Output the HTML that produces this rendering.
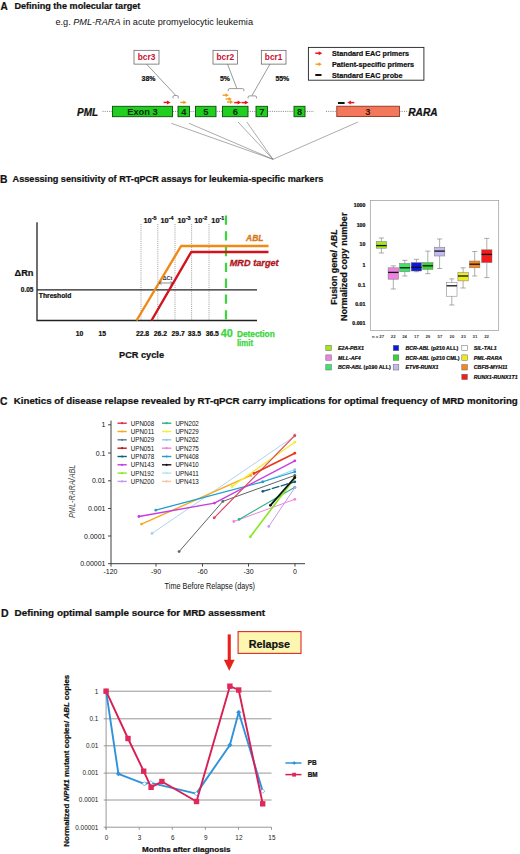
<!DOCTYPE html>
<html><head><meta charset="utf-8">
<style>
html,body{margin:0;padding:0;background:#fff;}
svg{display:block;font-family:"Liberation Sans",sans-serif;}
.b{font-weight:bold}
.i{font-style:italic}
.bi{font-weight:bold;font-style:italic}
text.b[fill="#111"],text.bi[fill="#111"],g.b[fill="#111"] text{stroke:#111;stroke-width:0.22px}
</style></head>
<body>
<svg width="520" height="854" viewBox="0 0 520 854">
<rect width="520" height="854" fill="#fff"/>
<!-- ================= PANEL A ================= -->
<g id="A">
<text x="0.5" y="9.6" class="b" font-size="10" fill="#111">A</text>
<text x="14.4" y="9" class="b" font-size="9.1" fill="#111" textLength="126" lengthAdjust="spacingAndGlyphs">Defining the molecular target</text>
<text x="55.4" y="25" font-size="9.1" fill="#111" textLength="197.6" lengthAdjust="spacingAndGlyphs">e.g. <tspan class="i">PML-RARA</tspan> in acute promyelocytic leukemia</text>

<!-- bcr boxes -->
<g fill="#fff" stroke="#555" stroke-width="0.7">
<rect x="134" y="50.3" width="25" height="13.8"/>
<rect x="213" y="50.3" width="24.5" height="13.8"/>
<rect x="261.3" y="50.3" width="24.7" height="13.8"/>
</g>
<g class="b" font-size="8.3" fill="#c8102e" text-anchor="middle">
<text x="146.5" y="60">bcr3</text>
<text x="225.3" y="60">bcr2</text>
<text x="273.6" y="60">bcr1</text>
</g>
<g class="b" font-size="6.9" fill="#111" text-anchor="middle">
<text x="148.5" y="80.9">38%</text>
<text x="225" y="80.9">5%</text>
<text x="282.3" y="80.9">55%</text>
</g>
<!-- pointer lines + brackets -->
<g fill="none" stroke="#555" stroke-width="0.6">
<path d="M146.5 64.1 L175.6 95.3"/>
<path d="M173 98.4 V96.9 Q173 95.5 174.6 95.5 H176.7 Q178.3 95.5 178.3 96.9 V98.4"/>
<path d="M227.5 64.1 L236.8 88.4"/>
<path d="M228.2 91.2 V89.8 Q228.2 88.6 229.9 88.6 H242.2 Q243.9 88.6 243.9 89.8 V91.2"/>
<path d="M270 64.1 L252 95.5"/>
<path d="M248.1 98.4 V97 Q248.1 95.9 249.6 95.9 H255 Q256.5 95.9 256.5 97 V98.4"/>
</g>
<!-- dotted backbone -->
<g stroke="#666" stroke-width="0.8" stroke-dasharray="1 1.2" fill="none">
<path d="M102.5 111.4 H314"/>
<path d="M326 111.4 H336"/>
<path d="M399.5 111.4 H408"/>
</g>
<!-- exons -->
<g fill="#21cf21" stroke="#0d4d0d" stroke-width="0.9">
<rect x="112.5" y="106.3" width="60" height="10.4"/>
<rect x="178" y="106.3" width="11.5" height="10.4"/>
<rect x="195.5" y="106.3" width="20.5" height="10.4"/>
<rect x="222.5" y="106.3" width="25.5" height="10.4"/>
<rect x="256" y="106.3" width="11.5" height="10.4"/>
<rect x="294" y="106.3" width="11" height="10.4"/>
</g>
<rect x="336.8" y="106.2" width="62.7" height="10.4" fill="#f4775a" stroke="#7a2a1a" stroke-width="0.8"/>
<g class="b" font-size="9.3" fill="#0a2a0a" text-anchor="middle">
<text x="142.5" y="115">Exon 3</text>
<text x="183.8" y="115">4</text>
<text x="205.8" y="115">5</text>
<text x="235.3" y="115">6</text>
<text x="261.8" y="115">7</text>
<text x="299.5" y="115">8</text>
<text x="367.8" y="115" fill="#3a1008">3</text>
</g>
<text x="77" y="115.6" class="bi" font-size="10.2" fill="#111" textLength="21" lengthAdjust="spacingAndGlyphs">PML</text>
<text x="408.2" y="115.6" class="bi" font-size="10.2" fill="#111" textLength="29.5" lengthAdjust="spacingAndGlyphs">RARA</text>
<!-- primers arrows -->
<defs>
<g id="arR"><path d="M0 0 H4.2" stroke="#e8151b" stroke-width="1.5" fill="none"/><path d="M3.4 -2 L7 0 L3.4 2 Z" fill="#e8151b"/></g>
<g id="arO"><path d="M0 0 H3.8" stroke="#f39a1c" stroke-width="1.4" fill="none"/><path d="M3 -1.9 L6.3 0 L3 1.9 Z" fill="#f39a1c"/></g>
</defs>
<use href="#arR" x="163.6" y="102.4"/>
<use href="#arO" x="180.3" y="102.4"/>
<use href="#arO" x="222.6" y="95.2"/>
<use href="#arO" x="225.6" y="99"/>
<use href="#arO" x="227" y="102"/>
<use href="#arR" x="234.2" y="102.6"/>
<use href="#arR" x="241.5" y="102.6"/>
<rect x="338" y="102" width="6.6" height="2" fill="#111"/>
<use href="#arR" transform="translate(354.3 102.6) scale(-1 1)"/>
<!-- convergence lines -->
<g stroke="#666" stroke-width="0.55" fill="none">
<path d="M171.3 123.3 L273 159.3"/>
<path d="M189 123.3 L273 159.3"/>
<path d="M238 122 L273 159.3"/>
<path d="M246.8 122 L273 159.3"/>
<path d="M358 122 L273 159.3"/>
</g>
<!-- legend -->
<rect x="308.4" y="47.4" width="115.5" height="32.8" fill="#fff" stroke="#222" stroke-width="0.9"/>
<use href="#arR" x="315.3" y="53.2"/>
<use href="#arO" x="315.6" y="64.2"/>
<rect x="315.3" y="74" width="6.2" height="2" fill="#111"/>
<g class="b" font-size="7.3" fill="#111">
<text x="332" y="55.8" textLength="77" lengthAdjust="spacingAndGlyphs">Standard EAC primers</text>
<text x="332" y="66.8" textLength="82" lengthAdjust="spacingAndGlyphs">Patient-specific primers</text>
<text x="332" y="77.7" textLength="70.5" lengthAdjust="spacingAndGlyphs">Standard EAC probe</text>
</g>
</g>
<!-- ================= PANEL B ================= -->
<g id="B">
<text x="0" y="182.6" class="b" font-size="10.3" fill="#111">B</text>
<text x="12.6" y="182.4" class="b" font-size="9.1" fill="#111" textLength="310.7" lengthAdjust="spacingAndGlyphs">Assessing sensitivity of RT-qPCR assays for leukemia-specific markers</text>

<!-- dotted verticals -->
<g stroke="#777" stroke-width="0.7" stroke-dasharray="1 1.1" fill="none">
<path d="M141 224 V320.5"/><path d="M157.8 224 V320.5"/><path d="M175 224 V320.5"/><path d="M191.6 224 V320.5"/><path d="M209 224 V320.5"/>
</g>
<!-- axes -->
<path d="M37 222.3 V320.5 H257" stroke="#222" stroke-width="1.3" fill="none"/>
<path d="M37 289.8 H257" stroke="#222" stroke-width="1.2" fill="none"/>
<!-- green dashed -->
<path d="M226 215.4 V320" stroke="#3ad63a" stroke-width="2.2" stroke-dasharray="9.3 6.5" fill="none"/>
<!-- curves -->
<path d="M136.5 320.5 L181.1 246 H268.5" stroke="#ef8a17" stroke-width="2.4" fill="none" stroke-linejoin="round"/>
<path d="M151.5 320.5 L191.2 252 H268.5" stroke="#d3121c" stroke-width="2.4" fill="none" stroke-linejoin="round"/>
<!-- delta Ct -->
<path d="M159.4 283 H172.6" stroke="#444" stroke-width="0.6" fill="none"/>
<path d="M161.6 281.5 L159.2 283 L161.6 284.5 M170.4 281.5 L172.8 283 L170.4 284.5" stroke="#444" stroke-width="0.6" fill="none"/>
<text x="162.7" y="280.4" class="b" font-size="5.4" fill="#333">&#916;Ct</text>
<!-- labels -->
<g class="b" font-size="7.4" fill="#111">
<text x="143.4" y="222.5">10<tspan dy="-2.2" font-size="5.4">-5</tspan></text>
<text x="160.4" y="222.5">10<tspan dy="-2.2" font-size="5.4">-4</tspan></text>
<text x="177.4" y="222.5">10<tspan dy="-2.2" font-size="5.4">-3</tspan></text>
<text x="194.2" y="222.5">10<tspan dy="-2.2" font-size="5.4">-2</tspan></text>
<text x="211.3" y="222.5">10<tspan dy="-2.2" font-size="5.4">-1</tspan></text>
</g>
<text x="246" y="240.5" class="bi" font-size="9" fill="#d9771a" stroke="#d9771a" stroke-width="0.3" textLength="17.5" lengthAdjust="spacingAndGlyphs">ABL</text>
<text x="229.7" y="266" class="bi" font-size="9" fill="#b0141c" stroke="#b0141c" stroke-width="0.3" textLength="49" lengthAdjust="spacingAndGlyphs">MRD target</text>
<text x="14.5" y="275.8" class="b" font-size="9.4" fill="#111" textLength="19" lengthAdjust="spacingAndGlyphs">&#916;Rn</text>
<text x="20.8" y="292.4" class="b" font-size="6.5" fill="#111">0.05</text>
<text x="38.8" y="297.5" class="b" font-size="6.3" fill="#111" textLength="32.5" lengthAdjust="spacingAndGlyphs">Threshold</text>
<g class="b" font-size="6.8" fill="#111" text-anchor="middle">
<text x="79.6" y="335.6">10</text>
<text x="102.2" y="335.6">15</text>
<text x="142.5" y="335.6">22.8</text>
<text x="160.4" y="335.6">26.2</text>
<text x="178.2" y="335.6">29.7</text>
<text x="194.4" y="335.6">33.5</text>
<text x="212.3" y="335.6">36.5</text>
</g>
<text x="220.8" y="337.3" class="b" font-size="11" fill="#3ad63a" stroke="#3ad63a" stroke-width="0.25" textLength="12.1" lengthAdjust="spacingAndGlyphs">40</text>
<text x="236.9" y="336.5" class="b" font-size="8.2" fill="#3ad63a" stroke="#3ad63a" stroke-width="0.25" textLength="37.9" lengthAdjust="spacingAndGlyphs">Detection</text>
<text x="236.9" y="345.6" class="b" font-size="8.2" fill="#3ad63a" stroke="#3ad63a" stroke-width="0.25" textLength="16.2" lengthAdjust="spacingAndGlyphs">limit</text>
<text x="119" y="357.6" class="b" font-size="9" fill="#111" textLength="45" lengthAdjust="spacingAndGlyphs">PCR cycle</text>
<!-- box plot -->
<rect x="370.3" y="200.5" width="128.4" height="130.1" fill="#fff" stroke="#999" stroke-width="0.7"/>
<text x="365.3" y="207.3" class="b" font-size="5.2" fill="#111" text-anchor="end">1000</text>
<text x="365.3" y="226.5" class="b" font-size="5.2" fill="#111" text-anchor="end">100</text>
<text x="365.3" y="246.1" class="b" font-size="5.2" fill="#111" text-anchor="end">10</text>
<text x="365.3" y="266.8" class="b" font-size="5.2" fill="#111" text-anchor="end">1</text>
<text x="365.3" y="286.5" class="b" font-size="5.2" fill="#111" text-anchor="end">0.1</text>
<text x="365.3" y="305.8" class="b" font-size="5.2" fill="#111" text-anchor="end">0.01</text>
<text x="365.3" y="324.7" class="b" font-size="5.2" fill="#111" text-anchor="end">0.001</text>
<path d="M381.4 238.0 V241.6 M381.4 248.2 V253.0 M378.79999999999995 238.0 H384.0 M378.79999999999995 253.0 H384.0" stroke="#777" stroke-width="0.6" fill="none"/>
<rect x="376.2" y="241.6" width="10.4" height="6.6" fill="#a6e61e" stroke="#777" stroke-width="0.5"/>
<path d="M376.2 245.6 H386.6" stroke="#111" stroke-width="1.3"/>
<path d="M393.3 265.8 V267.8 M393.3 279.2 V289.0 M390.7 265.8 H395.90000000000003 M390.7 289.0 H395.90000000000003" stroke="#777" stroke-width="0.6" fill="none"/>
<rect x="388.1" y="267.8" width="10.4" height="11.4" fill="#ee82e0" stroke="#777" stroke-width="0.5"/>
<path d="M388.1 272.4 H398.5" stroke="#111" stroke-width="1.3"/>
<path d="M404.8 260.3 V263.5 M404.8 271.7 V276.0 M402.2 260.3 H407.40000000000003 M402.2 276.0 H407.40000000000003" stroke="#777" stroke-width="0.6" fill="none"/>
<rect x="399.6" y="263.5" width="10.4" height="8.2" fill="#3fe26a" stroke="#777" stroke-width="0.5"/>
<path d="M399.6 267.8 H410.0" stroke="#111" stroke-width="1.3"/>
<path d="M416.4 259.3 V262.6 M416.4 271.0 V271.7 M413.79999999999995 259.3 H419.0 M413.79999999999995 271.7 H419.0" stroke="#777" stroke-width="0.6" fill="none"/>
<rect x="411.2" y="262.6" width="10.4" height="8.4" fill="#1018d8" stroke="#777" stroke-width="0.5"/>
<path d="M411.2 267.3 H421.6" stroke="#111" stroke-width="1.3"/>
<path d="M427.8 251.1 V262.6 M427.8 269.4 V273.7 M425.2 251.1 H430.40000000000003 M425.2 273.7 H430.40000000000003" stroke="#777" stroke-width="0.6" fill="none"/>
<rect x="422.6" y="262.6" width="10.4" height="6.8" fill="#33d633" stroke="#777" stroke-width="0.5"/>
<path d="M422.6 265.8 H433.0" stroke="#111" stroke-width="1.3"/>
<path d="M439.6 239.0 V247.2 M439.6 256.0 V268.5 M437.0 239.0 H442.20000000000005 M437.0 268.5 H442.20000000000005" stroke="#777" stroke-width="0.6" fill="none"/>
<rect x="434.4" y="247.2" width="10.4" height="8.8" fill="#c4baf0" stroke="#777" stroke-width="0.5"/>
<path d="M434.4 251.1 H444.8" stroke="#111" stroke-width="1.3"/>
<path d="M451.8 278.9 V282.5 M451.8 296.2 V305.0 M449.2 278.9 H454.40000000000003 M449.2 305.0 H454.40000000000003" stroke="#777" stroke-width="0.6" fill="none"/>
<rect x="446.6" y="282.5" width="10.4" height="13.7" fill="#ffffff" stroke="#777" stroke-width="0.5"/>
<path d="M446.6 285.8 H457.0" stroke="#111" stroke-width="1.3"/>
<path d="M463.1 267.8 V272.7 M463.1 280.9 V288.0 M460.5 267.8 H465.70000000000005 M460.5 288.0 H465.70000000000005" stroke="#777" stroke-width="0.6" fill="none"/>
<rect x="457.9" y="272.7" width="10.4" height="8.2" fill="#ecec1e" stroke="#777" stroke-width="0.5"/>
<path d="M457.9 276.0 H468.3" stroke="#111" stroke-width="1.3"/>
<path d="M474.7 251.5 V261.0 M474.7 267.8 V276.0 M472.09999999999997 251.5 H477.3 M472.09999999999997 276.0 H477.3" stroke="#777" stroke-width="0.6" fill="none"/>
<rect x="469.5" y="261.0" width="10.4" height="6.8" fill="#f4861e" stroke="#777" stroke-width="0.5"/>
<path d="M469.5 264.2 H479.9" stroke="#111" stroke-width="1.3"/>
<path d="M486.8 238.4 V249.8 M486.8 262.6 V277.6 M484.2 238.4 H489.40000000000003 M484.2 277.6 H489.40000000000003" stroke="#777" stroke-width="0.6" fill="none"/>
<rect x="481.6" y="249.8" width="10.4" height="12.8" fill="#f21c1c" stroke="#777" stroke-width="0.5"/>
<path d="M481.6 254.4 H492.0" stroke="#111" stroke-width="1.3"/>
<text x="372" y="338.2" class="b" font-size="4.3" fill="#333">n =</text>
<text x="381.7" y="338.2" class="b" font-size="4.3" fill="#333" text-anchor="middle">27</text>
<text x="393.2" y="338.2" class="b" font-size="4.3" fill="#333" text-anchor="middle">22</text>
<text x="404.6" y="338.2" class="b" font-size="4.3" fill="#333" text-anchor="middle">24</text>
<text x="416.4" y="338.2" class="b" font-size="4.3" fill="#333" text-anchor="middle">17</text>
<text x="427.8" y="338.2" class="b" font-size="4.3" fill="#333" text-anchor="middle">29</text>
<text x="439.9" y="338.2" class="b" font-size="4.3" fill="#333" text-anchor="middle">57</text>
<text x="452" y="338.2" class="b" font-size="4.3" fill="#333" text-anchor="middle">20</text>
<text x="463.4" y="338.2" class="b" font-size="4.3" fill="#333" text-anchor="middle">23</text>
<text x="474.9" y="338.2" class="b" font-size="4.3" fill="#333" text-anchor="middle">31</text>
<text x="486.6" y="338.2" class="b" font-size="4.3" fill="#333" text-anchor="middle">22</text>
<text transform="translate(337.2 267) rotate(-90)" class="b" font-size="9.2" fill="#111" text-anchor="middle" textLength="75.4" lengthAdjust="spacingAndGlyphs">Fusion gene/ <tspan class="bi">ABL</tspan></text>
<text transform="translate(346.7 266.8) rotate(-90)" class="b" font-size="9.2" fill="#111" text-anchor="middle" textLength="108.5" lengthAdjust="spacingAndGlyphs">Normalized copy number</text>
<rect x="325.8" y="345.3" width="5.6" height="5.4" fill="#a6e61e" stroke="#666" stroke-width="0.5"/>
<text x="338" y="349.9" class="bi" font-size="5.3" fill="#111">E2A-PBX1<tspan class="b" font-style="normal"></tspan></text>
<rect x="325.8" y="354.9" width="5.6" height="5.4" fill="#ee82e0" stroke="#666" stroke-width="0.5"/>
<text x="338" y="359.5" class="bi" font-size="5.3" fill="#111">MLL-AF4<tspan class="b" font-style="normal"></tspan></text>
<rect x="325.8" y="364.6" width="5.6" height="5.4" fill="#3fe26a" stroke="#666" stroke-width="0.5"/>
<text x="338" y="369.2" class="bi" font-size="5.3" fill="#111">BCR-ABL<tspan class="b" font-style="normal"> (p190 ALL)</tspan></text>
<rect x="393.2" y="345.3" width="5.6" height="5.4" fill="#1018d8" stroke="#666" stroke-width="0.5"/>
<text x="405.4" y="349.9" class="bi" font-size="5.3" fill="#111">BCR-ABL<tspan class="b" font-style="normal"> (p210 ALL)</tspan></text>
<rect x="393.2" y="354.9" width="5.6" height="5.4" fill="#33d633" stroke="#666" stroke-width="0.5"/>
<text x="405.4" y="359.5" class="bi" font-size="5.3" fill="#111">BCR-ABL<tspan class="b" font-style="normal"> (p210 CML)</tspan></text>
<rect x="393.2" y="364.6" width="5.6" height="5.4" fill="#c4baf0" stroke="#666" stroke-width="0.5"/>
<text x="405.4" y="369.2" class="bi" font-size="5.3" fill="#111">ETV6-RUNX1<tspan class="b" font-style="normal"></tspan></text>
<rect x="461.8" y="345.3" width="5.6" height="5.4" fill="#ffffff" stroke="#666" stroke-width="0.5"/>
<text x="473.8" y="349.9" class="bi" font-size="5.3" fill="#111">SIL-TAL1<tspan class="b" font-style="normal"></tspan></text>
<rect x="461.8" y="354.9" width="5.6" height="5.4" fill="#ecec1e" stroke="#666" stroke-width="0.5"/>
<text x="473.8" y="359.5" class="bi" font-size="5.3" fill="#111">PML-RARA<tspan class="b" font-style="normal"></tspan></text>
<rect x="461.8" y="364.6" width="5.6" height="5.4" fill="#f4861e" stroke="#666" stroke-width="0.5"/>
<text x="473.8" y="369.2" class="bi" font-size="5.3" fill="#111">CBFB-MYH11<tspan class="b" font-style="normal"></tspan></text>
<rect x="461.8" y="374.2" width="5.6" height="5.4" fill="#f21c1c" stroke="#666" stroke-width="0.5"/>
<text x="473.8" y="378.8" class="bi" font-size="5.3" fill="#111">RUNX1-RUNX1T1<tspan class="b" font-style="normal"></tspan></text>
</g>
<!-- ================= PANEL C ================= -->
<g id="C">
<text x="0" y="404.6" class="b" font-size="10.3" fill="#111">C</text>
<text x="13.8" y="404.4" class="b" font-size="9.6" fill="#111" textLength="504" lengthAdjust="spacingAndGlyphs">Kinetics of disease relapse revealed by RT-qPCR carry implications for optimal frequency of MRD monitoring</text>
<path d="M111 420.6 V563.7 H305" stroke="#333" stroke-width="0.95" fill="none"/>
<path d="M108 424.8 H111" stroke="#333" stroke-width="0.9"/>
<text x="105.5" y="427.3" font-size="7" fill="#111" text-anchor="end">1</text>
<path d="M108 453 H111" stroke="#333" stroke-width="0.9"/>
<text x="105.5" y="455.5" font-size="7" fill="#111" text-anchor="end">0.1</text>
<path d="M108 480.8 H111" stroke="#333" stroke-width="0.9"/>
<text x="105.5" y="483.3" font-size="7" fill="#111" text-anchor="end">0.01</text>
<path d="M108 508.5 H111" stroke="#333" stroke-width="0.9"/>
<text x="105.5" y="511.0" font-size="7" fill="#111" text-anchor="end">0.001</text>
<path d="M108 536 H111" stroke="#333" stroke-width="0.9"/>
<text x="105.5" y="538.5" font-size="7" fill="#111" text-anchor="end">0.0001</text>
<path d="M108 563.7 H111" stroke="#333" stroke-width="0.9"/>
<text x="105.5" y="566" font-size="7" fill="#111" text-anchor="end">0.00001</text>
<path d="M111 563.7 V566.6" stroke="#333" stroke-width="0.9"/>
<text x="110.5" y="574.3" font-size="7" fill="#111" text-anchor="middle">-120</text>
<path d="M156 563.7 V566.6" stroke="#333" stroke-width="0.9"/>
<text x="156" y="574.3" font-size="7" fill="#111" text-anchor="middle">-90</text>
<path d="M202.5 563.7 V566.6" stroke="#333" stroke-width="0.9"/>
<text x="202.5" y="574.3" font-size="7" fill="#111" text-anchor="middle">-60</text>
<path d="M248.5 563.7 V566.6" stroke="#333" stroke-width="0.9"/>
<text x="248.5" y="574.3" font-size="7" fill="#111" text-anchor="middle">-30</text>
<path d="M295 563.7 V566.6" stroke="#333" stroke-width="0.9"/>
<text x="295" y="574.3" font-size="7" fill="#111" text-anchor="middle">0</text>
<text x="164.6" y="589.3" font-size="8.5" fill="#111" textLength="90.4" lengthAdjust="spacingAndGlyphs">Time Before Relapse (days)</text>
<text transform="translate(75.2 491.3) rotate(-90)" class="i" font-size="8.6" fill="#444" text-anchor="middle" textLength="53.4" lengthAdjust="spacingAndGlyphs">PML-RARA/ABL</text>
<path d="M152 533.4 L294.8 436" stroke="#a9cdee" stroke-width="0.9" fill="none" stroke-linejoin="round"/>
<circle cx="152" cy="533.4" r="1.4" fill="#a9cdee"/>
<circle cx="294.8" cy="436" r="1.4" fill="#a9cdee"/>
<path d="M214.2 517.8 L294.8 434.6" stroke="#f4c2b6" stroke-width="0.9" fill="none" stroke-linejoin="round"/>
<circle cx="214.2" cy="517.8" r="1.4" fill="#f4c2b6"/>
<circle cx="294.8" cy="434.6" r="1.4" fill="#f4c2b6"/>
<path d="M262.8 481.8 L294.8 469.6" stroke="#92c9f0" stroke-width="0.9" fill="none" stroke-linejoin="round"/>
<circle cx="262.8" cy="481.8" r="1.4" fill="#92c9f0"/>
<circle cx="294.8" cy="469.6" r="1.4" fill="#92c9f0"/>
<path d="M141.5 524.1 L250.8 475.4" stroke="#f2ab1e" stroke-width="1.4" fill="none" stroke-linejoin="round"/>
<circle cx="141.5" cy="524.1" r="1.4" fill="#f2ab1e"/>
<circle cx="250.8" cy="475.4" r="1.4" fill="#f2ab1e"/>
<path d="M232 486.5 L294.8 442.2" stroke="#f2ee3c" stroke-width="1.4" fill="none" stroke-linejoin="round"/>
<circle cx="232" cy="486.5" r="1.4" fill="#f2ee3c"/>
<circle cx="294.8" cy="442.2" r="1.4" fill="#f2ee3c"/>
<path d="M155.8 510.2 L262.8 481.8 L294.8 471.8" stroke="#1f9fd0" stroke-width="1.2" fill="none" stroke-linejoin="round"/>
<circle cx="155.8" cy="510.2" r="1.4" fill="#1f9fd0"/>
<circle cx="262.8" cy="481.8" r="1.4" fill="#1f9fd0"/>
<circle cx="294.8" cy="471.8" r="1.4" fill="#1f9fd0"/>
<path d="M179.1 551.6 L222.8 501.4 L294.8 475.4" stroke="#5a6468" stroke-width="1.0" fill="none" stroke-linejoin="round"/>
<circle cx="179.1" cy="551.6" r="1.4" fill="#5a6468"/>
<circle cx="222.8" cy="501.4" r="1.4" fill="#5a6468"/>
<circle cx="294.8" cy="475.4" r="1.4" fill="#5a6468"/>
<path d="M138.9 516.5 L214.4 503.1 L294.8 460.8" stroke="#c63ce0" stroke-width="1.4" fill="none" stroke-linejoin="round"/>
<circle cx="138.9" cy="516.5" r="1.4" fill="#c63ce0"/>
<circle cx="214.4" cy="503.1" r="1.4" fill="#c63ce0"/>
<circle cx="294.8" cy="460.8" r="1.4" fill="#c63ce0"/>
<path d="M214.2 517.8 L294.8 435.6" stroke="#dc4560" stroke-width="1.1" fill="none" stroke-linejoin="round"/>
<circle cx="214.2" cy="517.8" r="1.4" fill="#dc4560"/>
<circle cx="294.8" cy="435.6" r="1.4" fill="#dc4560"/>
<path d="M253.9 473.5 L294.8 453.2" stroke="#e83a1c" stroke-width="1.8" fill="none" stroke-linejoin="round"/>
<circle cx="253.9" cy="473.5" r="1.4" fill="#e83a1c"/>
<circle cx="294.8" cy="453.2" r="1.4" fill="#e83a1c"/>
<path d="M233.8 521.5 L294.8 499.3" stroke="#f47fe2" stroke-width="1.0" fill="none" stroke-linejoin="round"/>
<circle cx="233.8" cy="521.5" r="1.4" fill="#f47fe2"/>
<circle cx="294.8" cy="499.3" r="1.4" fill="#f47fe2"/>
<path d="M239.1 519.4 L294.8 487.3" stroke="#2cb284" stroke-width="1.1" fill="none" stroke-linejoin="round"/>
<circle cx="239.1" cy="519.4" r="1.4" fill="#2cb284"/>
<circle cx="294.8" cy="487.3" r="1.4" fill="#2cb284"/>
<path d="M250.3 536.8 L294.8 478" stroke="#8ce628" stroke-width="1.7" fill="none" stroke-linejoin="round"/>
<circle cx="250.3" cy="536.8" r="1.4" fill="#8ce628"/>
<circle cx="294.8" cy="478" r="1.4" fill="#8ce628"/>
<path d="M268.8 526.4 L294.8 487.7" stroke="#c39af2" stroke-width="1.0" fill="none" stroke-linejoin="round"/>
<circle cx="268.8" cy="526.4" r="1.4" fill="#c39af2"/>
<circle cx="294.8" cy="487.7" r="1.4" fill="#c39af2"/>
<path d="M262.8 491.3 L294.8 481.8" stroke="#0f5f80" stroke-width="1.3" fill="none" stroke-linejoin="round" stroke-dasharray="8 1.3"/>
<circle cx="262.8" cy="491.3" r="1.4" fill="#0f5f80"/>
<circle cx="294.8" cy="481.8" r="1.4" fill="#0f5f80"/>
<path d="M270.4 505.3 L294.8 477.5" stroke="#111111" stroke-width="1.8" fill="none" stroke-linejoin="round"/>
<circle cx="270.4" cy="505.3" r="1.4" fill="#111111"/>
<circle cx="294.8" cy="477.5" r="1.4" fill="#111111"/>
<path d="M117.5 423.2 H126.8" stroke="#e0304f" stroke-width="1.4"/>
<circle cx="122.1" cy="423.2" r="1.1" fill="#e0304f"/>
<text x="130.8" y="425.7" font-size="6.9" fill="#111" textLength="23.4" lengthAdjust="spacingAndGlyphs">UPN008</text>
<path d="M117.5 431.5 H126.8" stroke="#f2ab1e" stroke-width="1.4"/>
<circle cx="122.1" cy="431.5" r="1.1" fill="#f2ab1e"/>
<text x="130.8" y="434.0" font-size="6.9" fill="#111" textLength="23.4" lengthAdjust="spacingAndGlyphs">UPN011</text>
<path d="M117.5 439.8 H126.8" stroke="#5a7f8c" stroke-width="1.4"/>
<circle cx="122.1" cy="439.8" r="1.1" fill="#5a7f8c"/>
<text x="130.8" y="442.3" font-size="6.9" fill="#111" textLength="23.4" lengthAdjust="spacingAndGlyphs">UPN029</text>
<path d="M117.5 448.2 H126.8" stroke="#c4161c" stroke-width="1.4"/>
<circle cx="122.1" cy="448.2" r="1.1" fill="#c4161c"/>
<text x="130.8" y="450.7" font-size="6.9" fill="#111" textLength="23.4" lengthAdjust="spacingAndGlyphs">UPN051</text>
<path d="M117.5 456.5 H126.8" stroke="#0f5f80" stroke-width="1.4"/>
<circle cx="122.1" cy="456.5" r="1.1" fill="#0f5f80"/>
<text x="130.8" y="459.0" font-size="6.9" fill="#111" textLength="23.4" lengthAdjust="spacingAndGlyphs">UPN078</text>
<path d="M117.5 464.8 H126.8" stroke="#c63ce0" stroke-width="1.4"/>
<circle cx="122.1" cy="464.8" r="1.1" fill="#c63ce0"/>
<text x="130.8" y="467.3" font-size="6.9" fill="#111" textLength="23.4" lengthAdjust="spacingAndGlyphs">UPN143</text>
<path d="M117.5 473.1 H126.8" stroke="#8ce628" stroke-width="1.4"/>
<circle cx="122.1" cy="473.1" r="1.1" fill="#8ce628"/>
<text x="130.8" y="475.6" font-size="6.9" fill="#111" textLength="23.4" lengthAdjust="spacingAndGlyphs">UPN192</text>
<path d="M117.5 481.4 H126.8" stroke="#c39af2" stroke-width="1.4"/>
<circle cx="122.1" cy="481.4" r="1.1" fill="#c39af2"/>
<text x="130.8" y="483.9" font-size="6.9" fill="#111" textLength="23.4" lengthAdjust="spacingAndGlyphs">UPN200</text>
<path d="M162 423.2 H171.3" stroke="#2cb284" stroke-width="1.4"/>
<circle cx="166.6" cy="423.2" r="1.1" fill="#2cb284"/>
<text x="175.4" y="425.7" font-size="6.9" fill="#111" textLength="23.4" lengthAdjust="spacingAndGlyphs">UPN202</text>
<path d="M162 431.5 H171.3" stroke="#f2ee3c" stroke-width="1.4"/>
<circle cx="166.6" cy="431.5" r="1.1" fill="#f2ee3c"/>
<text x="175.4" y="434.0" font-size="6.9" fill="#111" textLength="23.4" lengthAdjust="spacingAndGlyphs">UPN229</text>
<path d="M162 439.8 H171.3" stroke="#92c9f0" stroke-width="1.4"/>
<circle cx="166.6" cy="439.8" r="1.1" fill="#92c9f0"/>
<text x="175.4" y="442.3" font-size="6.9" fill="#111" textLength="23.4" lengthAdjust="spacingAndGlyphs">UPN262</text>
<path d="M162 448.2 H171.3" stroke="#f47fe2" stroke-width="1.4"/>
<circle cx="166.6" cy="448.2" r="1.1" fill="#f47fe2"/>
<text x="175.4" y="450.7" font-size="6.9" fill="#111" textLength="23.4" lengthAdjust="spacingAndGlyphs">UPN275</text>
<path d="M162 456.5 H171.3" stroke="#1f9fd0" stroke-width="1.4"/>
<circle cx="166.6" cy="456.5" r="1.1" fill="#1f9fd0"/>
<text x="175.4" y="459.0" font-size="6.9" fill="#111" textLength="23.4" lengthAdjust="spacingAndGlyphs">UPN408</text>
<path d="M162 464.8 H171.3" stroke="#111111" stroke-width="1.4"/>
<circle cx="166.6" cy="464.8" r="1.1" fill="#111111"/>
<text x="175.4" y="467.3" font-size="6.9" fill="#111" textLength="23.4" lengthAdjust="spacingAndGlyphs">UPN410</text>
<path d="M162 473.1 H171.3" stroke="#b4e3f2" stroke-width="1.4"/>
<circle cx="166.6" cy="473.1" r="1.1" fill="#b4e3f2"/>
<text x="175.4" y="475.6" font-size="6.9" fill="#111" textLength="23.4" lengthAdjust="spacingAndGlyphs">UPN411</text>
<path d="M162 481.4 H171.3" stroke="#f8c4a6" stroke-width="1.4"/>
<circle cx="166.6" cy="481.4" r="1.1" fill="#f8c4a6"/>
<text x="175.4" y="483.9" font-size="6.9" fill="#111" textLength="23.4" lengthAdjust="spacingAndGlyphs">UPN413</text>
</g>
<!-- ================= PANEL D ================= -->
<g id="D">
<text x="1" y="616.5" class="b" font-size="10.5" fill="#111">D</text>
<text x="14.5" y="615.5" class="b" font-size="9.6" fill="#111" textLength="250.5" lengthAdjust="spacingAndGlyphs">Defining optimal sample source for MRD assessment</text>
<path d="M103.69999999999999 691.2 H271.5" stroke="#8c8c8c" stroke-width="0.9"/>
<path d="M103.69999999999999 718.8 H271.5" stroke="#8c8c8c" stroke-width="0.9"/>
<path d="M103.69999999999999 745.8 H271.5" stroke="#8c8c8c" stroke-width="0.9"/>
<path d="M103.69999999999999 773.1 H271.5" stroke="#8c8c8c" stroke-width="0.9"/>
<path d="M103.69999999999999 800 H271.5" stroke="#8c8c8c" stroke-width="0.9"/>
<path d="M103.69999999999999 827.2 H271.5" stroke="#8c8c8c" stroke-width="0.9"/>
<path d="M106.1 688.5 V829.6" stroke="#8c8c8c" stroke-width="0.9"/>
<text x="98.4" y="693.5" font-size="6.4" fill="#222" text-anchor="end">1</text>
<text x="98.4" y="721.1" font-size="6.4" fill="#222" text-anchor="end">0.1</text>
<text x="98.4" y="748.1" font-size="6.4" fill="#222" text-anchor="end">0.01</text>
<text x="98.4" y="775.4" font-size="6.4" fill="#222" text-anchor="end">0.001</text>
<text x="98.4" y="802.3" font-size="6.4" fill="#222" text-anchor="end">0.0001</text>
<text x="98.4" y="829.5" font-size="6.4" fill="#222" text-anchor="end">0.00001</text>
<path d="M106.1 827.2 V829.8" stroke="#8c8c8c" stroke-width="0.9"/>
<text x="106.5" y="839.7" font-size="6.4" fill="#222" text-anchor="middle">0</text>
<path d="M139.2 827.2 V829.8" stroke="#8c8c8c" stroke-width="0.9"/>
<text x="139.6" y="839.7" font-size="6.4" fill="#222" text-anchor="middle">3</text>
<path d="M172.3 827.2 V829.8" stroke="#8c8c8c" stroke-width="0.9"/>
<text x="172.7" y="839.7" font-size="6.4" fill="#222" text-anchor="middle">6</text>
<path d="M205.4 827.2 V829.8" stroke="#8c8c8c" stroke-width="0.9"/>
<text x="205.8" y="839.7" font-size="6.4" fill="#222" text-anchor="middle">9</text>
<path d="M238.5 827.2 V829.8" stroke="#8c8c8c" stroke-width="0.9"/>
<text x="238.9" y="839.7" font-size="6.4" fill="#222" text-anchor="middle">12</text>
<path d="M271.5 827.2 V829.8" stroke="#8c8c8c" stroke-width="0.9"/>
<text x="271.9" y="839.7" font-size="6.4" fill="#222" text-anchor="middle">15</text>
<text x="142" y="851.5" class="b" font-size="7.9" fill="#111" textLength="88.5" lengthAdjust="spacingAndGlyphs">Months after diagnosis</text>
<text transform="translate(69.3 760.7) rotate(-90)" class="b" font-size="8.1" fill="#111" text-anchor="middle" textLength="172" lengthAdjust="spacingAndGlyphs">Normalized <tspan class="bi">NPM1</tspan> mutant copies/ <tspan class="bi">ABL</tspan> copies</text>
<path d="M106.1 691.2 L118.4 773.8 L144.3 783.8 L150.8 782.8 L196.3 793.6 L229.9 745 L238.7 712.3 L262.7 791.2" stroke="#2f93dc" stroke-width="1.9" fill="none" stroke-linejoin="round"/>
<path d="M106.1 689.0 L108.3 691.2 L106.1 693.4000000000001 L103.9 691.2 Z" fill="#2f93dc" stroke="#2f93dc" stroke-width="0.6"/>
<path d="M118.4 771.5999999999999 L120.6 773.8 L118.4 776.0 L116.2 773.8 Z" fill="#2f93dc" stroke="#2f93dc" stroke-width="0.6"/>
<path d="M150.8 780.6 L153 782.8 L150.8 785 L148.6 782.8 Z" fill="#fff" stroke="#2f93dc" stroke-width="0.6"/>
<path d="M144.3 781.6 L146.5 783.8 L144.3 786 L142.1 783.8 Z" fill="#fff" stroke="#2f93dc" stroke-width="0.6"/>
<path d="M196.5 791.5999999999999 L198.7 793.8 L196.5 796.0 L194.3 793.8 Z" fill="#fff" stroke="#2f93dc" stroke-width="0.6"/>
<path d="M229.9 742.8 L232.1 745 L229.9 747.2 L227.7 745 Z" fill="#2f93dc" stroke="#2f93dc" stroke-width="0.6"/>
<path d="M238.7 710.0999999999999 L240.9 712.3 L238.7 714.5 L236.5 712.3 Z" fill="#2f93dc" stroke="#2f93dc" stroke-width="0.6"/>
<path d="M262.7 789.0 L264.9 791.2 L262.7 793.4000000000001 L260.5 791.2 Z" fill="#fff" stroke="#2f93dc" stroke-width="0.6"/>
<path d="M106.1 691.2 L128.0 738.5 L143.7 771.2 L151.1 787.3 L161.9 781.5 L196.5 801.5 L229.9 686.2 L238.7 690 L262.7 803.8" stroke="#d81f55" stroke-width="1.9" fill="none" stroke-linejoin="round"/>
<rect x="103.4" y="688.5" width="5.4" height="5.4" fill="#e0285c"/>
<rect x="125.3" y="735.8" width="5.4" height="5.4" fill="#e0285c"/>
<rect x="141.0" y="768.5" width="5.4" height="5.4" fill="#e0285c"/>
<rect x="148.4" y="784.6" width="5.4" height="5.4" fill="#e0285c"/>
<rect x="159.2" y="778.8" width="5.4" height="5.4" fill="#e0285c"/>
<rect x="193.8" y="798.8" width="5.4" height="5.4" fill="#e0285c"/>
<rect x="227.2" y="683.5" width="5.4" height="5.4" fill="#e0285c"/>
<rect x="236.0" y="687.3" width="5.4" height="5.4" fill="#e0285c"/>
<rect x="260.0" y="801.1" width="5.4" height="5.4" fill="#e0285c"/>
<path d="M285.4 763 H301.5" stroke="#2f93dc" stroke-width="1.5"/>
<path d="M294.2 761.2 L296.2 763 L294.2 764.8 L292.2 763 Z" fill="#2f93dc"/>
<text x="307.7" y="765.4" class="b" font-size="6.4" fill="#111">PB</text>
<path d="M285.4 774.6 H301.5" stroke="#d81f55" stroke-width="1.5"/>
<rect x="292.2" y="772.8" width="3.8" height="3.8" fill="#e0285c"/>
<text x="307.7" y="777.3" class="b" font-size="6.4" fill="#111">BM</text>
<rect x="238.1" y="631.6" width="62.9" height="21.8" fill="#fdf6b0" stroke="#dc2a2a" stroke-width="1.1"/>
<text x="248.7" y="647.5" class="b" font-size="10.8" fill="#111" textLength="41.3" lengthAdjust="spacingAndGlyphs">Relapse</text>
<path d="M229.25 634.4 V661" stroke="#e8211a" stroke-width="3.1"/>
<path d="M223.9 659.8 H234.6 L229.25 670.8 Z" fill="#e8211a"/>
</g>
</svg>
</body></html>
